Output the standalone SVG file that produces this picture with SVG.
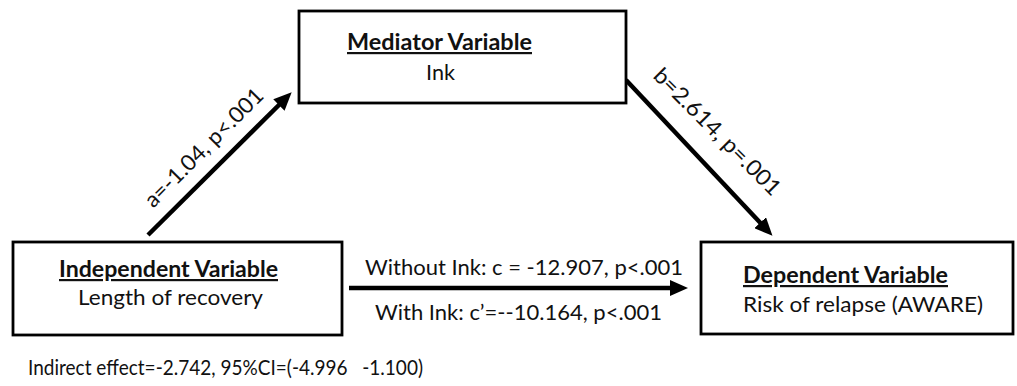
<svg xmlns="http://www.w3.org/2000/svg" width="1017" height="386" viewBox="0 0 1017 386">
  <style>
    text { font-family: Lato, "Open Sans", "Liberation Sans", sans-serif; font-size: 22px; fill: #111; }
    .title { font-weight: bold; text-decoration: underline; }
    .box { fill: #fff; stroke: #000; stroke-width: 2.8; }
    .edge { stroke: #000; stroke-width: 4.5; fill: none; marker-end: url(#arrow); }
  </style>
  <defs>
    <marker id="arrow" viewBox="0 0 18 16" refX="10" refY="8" markerWidth="18" markerHeight="16" markerUnits="userSpaceOnUse" orient="auto">
      <path d="M0,0 L18,8 L0,16 z" fill="#000"/>
    </marker>
  </defs>
  <rect width="1017" height="386" fill="#fff"/>

  <!-- paths between the variables -->
  <g id="connectors">
    <line class="edge" x1="148" y1="235" x2="286" y2="98"/>
    <line class="edge" x1="626" y1="80" x2="767" y2="230"/>
    <line class="edge" x1="349" y1="288" x2="680" y2="288"/>
    <text text-anchor="middle" transform="translate(209,153) rotate(-45)" textLength="158" lengthAdjust="spacingAndGlyphs">a=-1.04, p&lt;.001</text>
    <text text-anchor="middle" transform="translate(712,137) rotate(45)" textLength="170" lengthAdjust="spacingAndGlyphs">b=2.614, p=.001</text>
    <text x="365" y="275" textLength="318" lengthAdjust="spacingAndGlyphs">Without Ink: c = -12.907, p&lt;.001</text>
    <text x="375" y="320" textLength="287" lengthAdjust="spacingAndGlyphs">With Ink: c’=--10.164, p&lt;.001</text>
  </g>

  <g id="mediator">
    <rect class="box" x="299" y="11" width="327" height="92"/>
    <text class="title" x="347" y="50" textLength="185" lengthAdjust="spacingAndGlyphs">Mediator Variable</text>
    <text x="426" y="80" textLength="29" lengthAdjust="spacingAndGlyphs">Ink</text>
  </g>

  <g id="independent">
    <rect class="box" x="13" y="242" width="329" height="93"/>
    <text class="title" x="59" y="277" textLength="219" lengthAdjust="spacingAndGlyphs">Independent Variable</text>
    <text x="78" y="305" textLength="185" lengthAdjust="spacingAndGlyphs">Length of recovery</text>
  </g>

  <g id="dependent">
    <rect class="box" x="701" y="242" width="312" height="92"/>
    <text class="title" x="743" y="283" textLength="205" lengthAdjust="spacingAndGlyphs">Dependent Variable</text>
    <text x="743" y="312" textLength="240" lengthAdjust="spacingAndGlyphs">Risk of relapse (AWARE)</text>
  </g>

  <g id="indirect-effect">
    <text x="28" y="375" xml:space="preserve" textLength="395" lengthAdjust="spacingAndGlyphs">Indirect effect=-2.742, 95%CI=(-4.996   -1.100)</text>
  </g>
</svg>
